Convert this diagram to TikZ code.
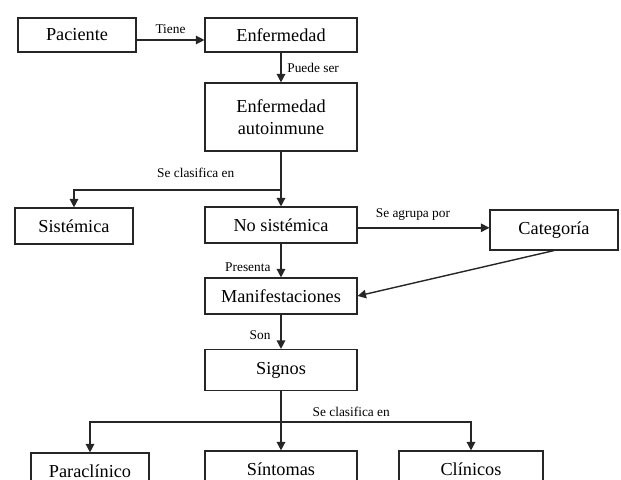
\documentclass[tikz,border=0pt]{standalone}
\usepackage{fontspec}
\setmainfont{Liberation Serif}
\usetikzlibrary{positioning,arrows.meta,calc}
\tikzset{
  caja/.style={draw=black!85,line width=0.8pt,minimum width=3.8cm,minimum height=0.9cm,
    inner sep=2pt,align=center,font=\fontsize{13}{15.6}\selectfont},
  etq/.style={font=\fontsize{9.5}{11}\selectfont,inner sep=1pt},
  flecha/.style={-{Triangle[length=6pt,width=6pt]},line width=1pt,draw=black!85},
}

\begin{document}
\begin{tikzpicture}[x=0.025cm,y=-0.025cm]
\useasboundingbox (0,0) rectangle (621,480);
\clip (0,0) rectangle (621,480);
% cajas
\node[caja,minimum width=2.95cm,minimum height=0.85cm] (pac) at (77,35) {Paciente};
\node[caja,minimum height=0.85cm] (enf) at (281,35) {Enfermedad};
\node[caja,minimum height=1.7cm] (aut) at (281,117) {Enfermedad\\autoinmune};
\node[caja,minimum width=2.95cm] (sis) at (74,226) {Sistémica};
\node[caja] (nos) at (281,225) {No sistémica};
\node[caja,minimum width=3.2cm,minimum height=1cm] (cat) at (554,230) {Categoría};
\node[caja] (man) at (281,296) {Manifestaciones};
\node[caja,minimum height=1.025cm] (sig) at (281,370) {Signos};
\node[caja,minimum width=2.95cm] (par) at (90,471) {Paraclínico};
\node[caja] (sin) at (281,469) {Síntomas};
\node[caja,minimum width=3.6cm] (cli) at (471,469) {Clínicos};
\coordinate (rama1) at (aut.south |- 0,190);
\coordinate (rama2) at (sig.south |- 0,422);
\coordinate (sal1) at ([yshift=-1.25mm]pac.east);
\coordinate (sal2) at ([yshift=-0.07cm]nos.east);
% flechas
\draw[flecha] (sal1) -- node[etq,above=3pt]{Tiene} (enf.west |- sal1);
\draw[flecha] (enf) -- node[etq,right=3pt]{Puede ser} (aut);
\draw[flecha] (aut) -- (nos);
\draw[flecha] (rama1) -| (sis);
\node[etq,anchor=south east] at ($(rama1)+(-45,-11)$) {Se clasifica en};
\draw[flecha] (sal2) -- node[etq,above=4pt,pos=0.42]{Se agrupa por} (cat.west |- sal2);
\draw[flecha] (nos) -- node[etq,left=6pt,pos=0.7]{Presenta} (man);
\draw[flecha] (cat.south) -- (man.east);
\draw[flecha] (man) -- node[etq,left=6pt,pos=0.6]{Son} (sig);
\draw[flecha] (sig) -- (sin);
\draw[flecha] (rama2) -| (par);
\draw[flecha] (rama2) -| (cli);
\node[etq,anchor=south west] at ($(rama2)+(30,-4)$) {Se clasifica en};
\end{tikzpicture}
\end{document}
